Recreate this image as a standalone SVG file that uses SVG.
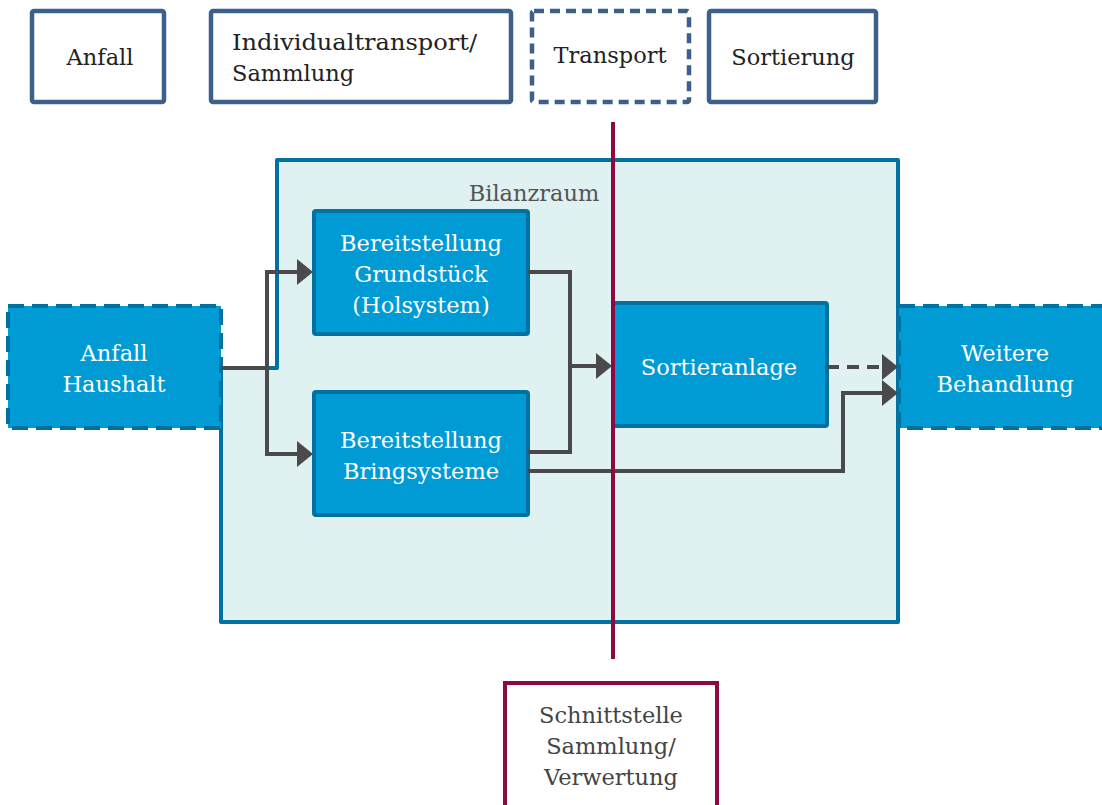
<svg xmlns="http://www.w3.org/2000/svg" width="1102" height="805" viewBox="0 0 1102 805">
<defs>
<style>
text{font-family:"DejaVu Serif","Liberation Serif",serif;font-size:22.5px}
.top{fill:#fff;stroke:#3c5f8c;stroke-width:4.5}
.topt{fill:#222}
.node{fill:#009ad5;stroke:#0071a0;stroke-width:4}
.dash{stroke-dasharray:16 8}
.nt{fill:#fff;text-anchor:middle}
.c{fill:none;stroke:#4a4a4c;stroke-width:4}
</style>
<marker id="ah" markerUnits="userSpaceOnUse" markerWidth="17" markerHeight="28" viewBox="0 -14 17 28" refX="0" refY="0" orient="auto">
<path d="M0,-13 L16,0 L0,13 Z" fill="#4a4a4c"/>
</marker>
</defs>
<rect width="1102" height="805" fill="#fff"/>
<g id="phase-anfall"><rect class="top" x="32" y="11" width="132" height="91" rx="2"/><text class="topt" x="100" y="65" text-anchor="middle">Anfall</text></g>
<g id="phase-sammlung"><rect class="top" x="211" y="11" width="300" height="91" rx="2"/><text class="topt" x="232" y="50" textLength="245" lengthAdjust="spacingAndGlyphs">Individualtransport/</text><text class="topt" x="232" y="81">Sammlung</text></g>
<g id="phase-transport"><rect class="top" x="532" y="11" width="157" height="91" rx="2" stroke-dasharray="10 6"/><text class="topt" x="610" y="63" text-anchor="middle">Transport</text></g>
<g id="phase-sortierung"><rect class="top" x="709" y="11" width="167" height="91" rx="2"/><text class="topt" x="793" y="65" text-anchor="middle">Sortierung</text></g>
<g id="bilanzraum"><path d="M277,160 H898 V622 H221 V368 H277 Z" fill="#e0f1f1" stroke="#0071a0" stroke-width="4" stroke-linejoin="round"/><text x="534" y="201" text-anchor="middle" fill="#555">Bilanzraum</text></g>
<g id="anfall-haushalt"><rect class="node dash" x="8" y="306" width="213" height="122"/><text class="nt" x="114" y="361">Anfall</text><text class="nt" x="114" y="392">Haushalt</text></g>
<g id="weitere-behandlung"><rect class="node dash" x="899" y="306" width="215" height="122"/><text class="nt" x="1005" y="361">Weitere</text><text class="nt" x="1005" y="392">Behandlung</text></g>
<g id="grundstueck"><rect class="node" x="314" y="211" width="214" height="123" rx="2"/><text class="nt" x="421" y="251">Bereitstellung</text><text class="nt" x="421" y="282">Grundstück</text><text class="nt" x="421" y="313">(Holsystem)</text></g>
<g id="bringsysteme"><rect class="node" x="314" y="392" width="214" height="123" rx="2"/><text class="nt" x="421" y="448">Bereitstellung</text><text class="nt" x="421" y="479">Bringsysteme</text></g>
<g id="sortieranlage"><rect class="node" x="613" y="303" width="214" height="123" rx="2"/><text class="nt" x="719" y="375">Sortieranlage</text></g>
<g id="connectors">
<path class="c" d="M221,368 H267 V272 H297" marker-end="url(#ah)"/>
<path class="c" d="M267,368 V454 H297" marker-end="url(#ah)"/>
<path class="c" d="M528,272 H570 V452 H528"/>
<path class="c" d="M570,366 H596" marker-end="url(#ah)"/>
<path class="c" d="M528,471 H843 V393 H882" marker-end="url(#ah)"/>
<path class="c" d="M827,367 H882" stroke-dasharray="12 8" marker-end="url(#ah)"/>
</g>
<g id="schnittstelle">
<line x1="613" y1="122" x2="613" y2="659" stroke="#8b0a42" stroke-width="4"/>
<rect x="505" y="683" width="212" height="130" fill="#fff" stroke="#8b0a42" stroke-width="4"/>
<text x="611" y="723" text-anchor="middle" fill="#444">Schnittstelle</text>
<text x="611" y="754" text-anchor="middle" fill="#444">Sammlung/</text>
<text x="611" y="785" text-anchor="middle" fill="#444">Verwertung</text>
</g>
</svg>
